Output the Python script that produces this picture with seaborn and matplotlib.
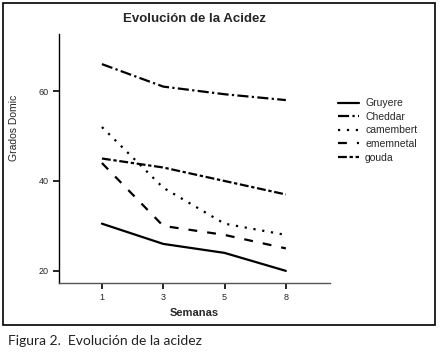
import pandas as pd
import numpy as np
import matplotlib
matplotlib.use('Agg')
import matplotlib.pyplot as plt
from matplotlib.patches import Rectangle
import seaborn as sns

# data
semanas = ['1', '3', '5', '8']
quesos = ['Gruyere', 'Cheddar', 'camembert', 'ememnetal', 'gouda']
gruyere = [30.5, 26, 24, 20]
cheddar = [66, 61, 59.3, 58]
camembert = [52, 38.5, 30.5, 28]
emmental = [44, 30, 28, 25]
gouda = [45, 43, 40, 37]

valores = [gruyere, cheddar, camembert, emmental, gouda]
rows = []
for q, vals in zip(quesos, valores):
    for i, v in enumerate(vals):
        rows.append({'pos': i, 'queso': q, 'grados': v})
df = pd.DataFrame(rows)

sns.set_style('ticks')
plt.rcParams['font.family'] = ['Liberation Sans', 'DejaVu Sans']

fig = plt.figure(figsize=(4.41, 3.55), dpi=100)
ax = fig.add_axes([0.1338, 0.2028, 0.6145, 0.7014])

dashes = {'Gruyere': '',
          'Cheddar': (5, 1.5, 1, 1.5),
          'camembert': (1, 3),
          'ememnetal': (4, 4.5),
          'gouda': (4, 1.2, 1.5, 1.2)}
palette = {q: 'black' for q in quesos}

sns.lineplot(data=df, x='pos', y='grados', hue='queso', style='queso',
             hue_order=quesos, style_order=quesos, dashes=dashes,
             palette=palette, linewidth=1.6, ax=ax)

ax.set_xlim(-0.7, 3.72)
ax.set_ylim(17.3, 72.7)
ax.set_xticks(range(len(semanas)))
ax.set_xticklabels(semanas)
ax.set_yticks([20, 40, 60])
ax.tick_params(axis='both', labelsize=6.5, length=4, width=1.2, color='black')
ax.spines['top'].set_visible(False)
ax.spines['right'].set_visible(False)
for s in ['left', 'bottom']:
    ax.spines[s].set_linewidth(1.0)
    ax.spines[s].set_color('black')
ax.spines['bottom'].set_color('#555555')

ax.set_xlabel('Semanas', fontsize=8, fontweight='bold', labelpad=4)
ax.set_ylabel('Grados Domic', fontsize=7.5)
ax.yaxis.set_label_coords(-0.148, 0.6225)
ax.set_title('Evolución de la Acidez', fontsize=9.5, fontweight='bold', pad=9)

leg = ax.legend(title=None, loc='upper left', bbox_to_anchor=(0.995, 0.78),
                frameon=False, fontsize=7.5, handlelength=2.0,
                handletextpad=0.6, labelspacing=0.35)
for line in leg.get_lines():
    line.set_linewidth(1.6)

fig.patches.append(Rectangle((3 / 441, 1 - 325 / 355), 432 / 441, 322 / 355,
                             transform=fig.transFigure, fill=False,
                             edgecolor='black', linewidth=1.2))
fig.text(8 / 441, 1 - 341 / 355, 'Figura 2.  Evolución de la acidez',
         fontsize=10, family='Lato', color='#222222', va='center')

fig.savefig('out.png', dpi=100)
